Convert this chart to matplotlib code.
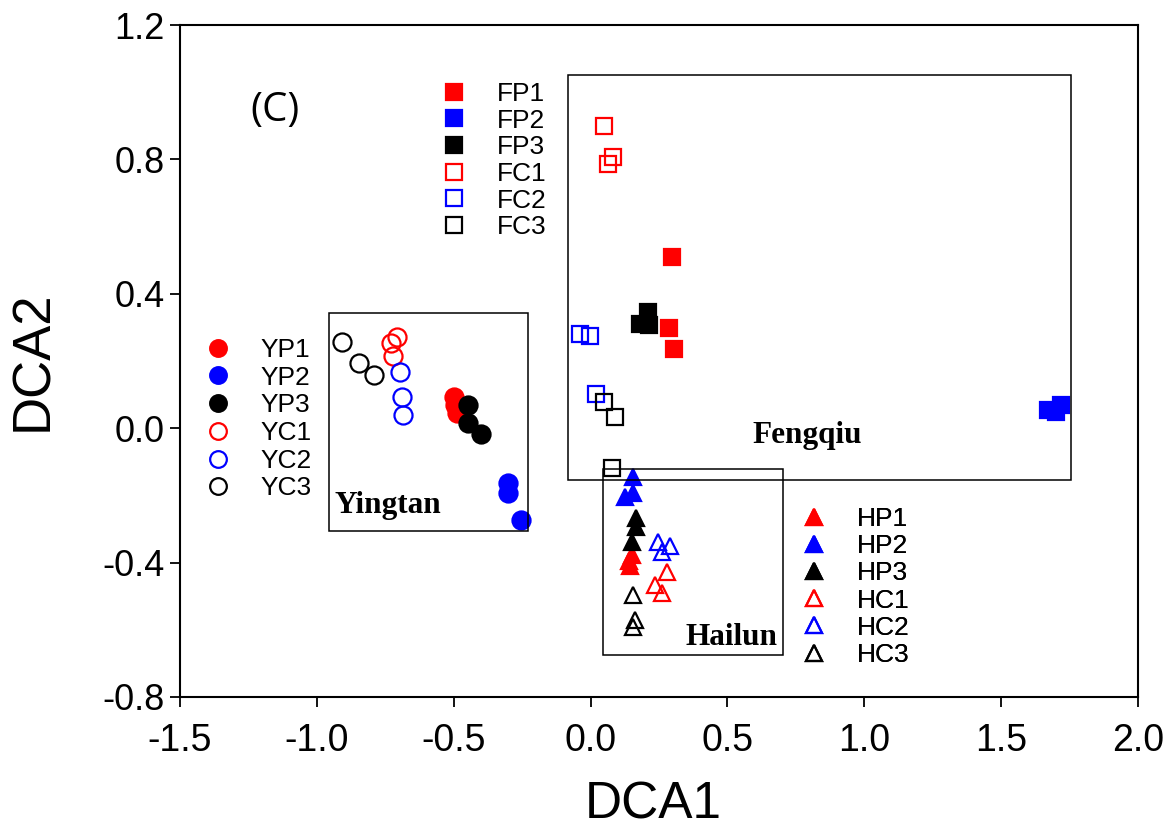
import matplotlib.pyplot as plt
from matplotlib.patches import Rectangle

plt.rcParams['font.family'] = ['Liberation Sans', 'DejaVu Sans']

RED, BLUE, BLACK = '#FF0000', '#0000FF', '#000000'

# Yingtan (circles)
yp1_x = [-0.500, -0.495, -0.490]; yp1_y = [0.093, 0.069, 0.045]
yp2_x = [-0.302, -0.302, -0.254]; yp2_y = [-0.163, -0.193, -0.273]
yp3_x = [-0.448, -0.448, -0.400]; yp3_y = [0.069, 0.015, -0.017]
yc1_x = [-0.707, -0.729, -0.722]; yc1_y = [0.271, 0.254, 0.215]
yc2_x = [-0.696, -0.689, -0.685]; yc2_y = [0.167, 0.093, 0.039]
yc3_x = [-0.908, -0.846, -0.791]; yc3_y = [0.257, 0.194, 0.158]

# Fengqiu (squares)
fp1_x = [0.298, 0.287, 0.305]; fp1_y = [0.510, 0.298, 0.236]
fp2_x = [1.671, 1.719, 1.700]; fp2_y = [0.054, 0.069, 0.048]
fp3_x = [0.210, 0.181, 0.214]; fp3_y = [0.346, 0.310, 0.307]
fc1_x = [0.049, 0.082, 0.064]; fc1_y = [0.899, 0.807, 0.786]
fc2_x = [-0.039, -0.002, 0.020]; fc2_y = [0.280, 0.274, 0.102]
fc3_x = [0.049, 0.089, 0.078]; fc3_y = [0.078, 0.033, -0.118]

# Hailun (triangles)
hp1_x = [0.151, 0.140, 0.145]; hp1_y = [-0.377, -0.395, -0.410]
hp2_x = [0.155, 0.126, 0.155]; hp2_y = [-0.145, -0.205, -0.193]
hp3_x = [0.166, 0.166, 0.151]; hp3_y = [-0.267, -0.294, -0.339]
hc1_x = [0.279, 0.235, 0.261]; hc1_y = [-0.428, -0.467, -0.490]
hc2_x = [0.246, 0.290, 0.261]; hc2_y = [-0.339, -0.351, -0.368]
hc3_x = [0.155, 0.162, 0.155]; hc3_y = [-0.496, -0.571, -0.592]

# site boxes: (x0, y0, x1, y1)
yingtan_box = (-0.956, -0.306, -0.229, 0.343)
fengqiu_box = (-0.082, -0.154, 1.755, 1.051)
hailun_box = (0.045, -0.675, 0.703, -0.121)

fig = plt.figure(figsize=(11.73, 8.35), dpi=100)
ax = fig.add_axes([0.1535, 0.1653, 0.8167, 0.8047])

groups = [
    ('FP1', fp1_x, fp1_y, 's', RED, True),
    ('FP2', fp2_x, fp2_y, 's', BLUE, True),
    ('FP3', fp3_x, fp3_y, 's', BLACK, True),
    ('FC1', fc1_x, fc1_y, 's', RED, False),
    ('FC2', fc2_x, fc2_y, 's', BLUE, False),
    ('FC3', fc3_x, fc3_y, 's', BLACK, False),
    ('YP1', yp1_x, yp1_y, 'o', RED, True),
    ('YP2', yp2_x, yp2_y, 'o', BLUE, True),
    ('YP3', yp3_x, yp3_y, 'o', BLACK, True),
    ('YC1', yc1_x, yc1_y, 'o', RED, False),
    ('YC2', yc2_x, yc2_y, 'o', BLUE, False),
    ('YC3', yc3_x, yc3_y, 'o', BLACK, False),
    ('HP1', hp1_x, hp1_y, '^', RED, True),
    ('HP2', hp2_x, hp2_y, '^', BLUE, True),
    ('HP3', hp3_x, hp3_y, '^', BLACK, True),
    ('HC1', hc1_x, hc1_y, '^', RED, False),
    ('HC2', hc2_x, hc2_y, '^', BLUE, False),
    ('HC3', hc3_x, hc3_y, '^', BLACK, False),
]
msize = {'s': 11, 'o': 13, '^': 12}

handles = {}
for name, xs, ys, m, c, filled in groups:
    ln, = ax.plot(xs, ys, ls='none', marker=m, ms=msize[m],
                  mfc=c if filled else 'none', mec=c, mew=1.6, zorder=3)
    handles[name] = ln

for x0, y0, x1, y1 in [yingtan_box, fengqiu_box, hailun_box]:
    ax.add_patch(Rectangle((x0, y0), x1 - x0, y1 - y0, fill=False,
                           ec='black', lw=1.1, zorder=5))

serif = dict(family=['Liberation Serif', 'DejaVu Serif'], fontweight='bold',
             fontsize=22.5)
ax.text(-0.934, -0.252, 'Yingtan', ha='left', va='baseline', **serif)
ax.text(0.590, -0.044, 'Fengqiu', ha='left', va='baseline', **serif)
ax.text(0.345, -0.645, 'Hailun', ha='left', va='baseline', **serif)

ax.text(0.099, 0.873, '(C)', transform=ax.transAxes, ha='center',
        va='center', fontsize=29, family=['Open Sans', 'DejaVu Sans'])

def add_legend(names, left_px, top_px, spacing):
    leg = ax.legend([handles[n] for n in names], names, loc='upper left',
                    bbox_to_anchor=(left_px / 1173, 1 - top_px / 835),
                    bbox_transform=fig.transFigure, frameon=False,
                    fontsize=19, borderpad=0, labelspacing=spacing,
                    handlelength=2.0, handletextpad=0.6, borderaxespad=0)
    for lh in leg.legend_handles:
        lh.set_markersize(11.5 if lh.get_marker() != 'o' else 12)
    ax.add_artist(leg)

add_legend(['FP1', 'FP2', 'FP3', 'FC1', 'FC2', 'FC3'], 428, 82, 0.10)
add_legend(['YP1', 'YP2', 'YP3', 'YC1', 'YC2', 'YC3'], 192, 338, 0.14)
add_legend(['HP1', 'HP2', 'HP3', 'HC1', 'HC2', 'HC3'], 788, 507, 0.12)

ax.set_xlim(-1.5, 2.0)
ax.set_ylim(-0.8, 1.2)
ax.set_xticks([-1.5, -1.0, -0.5, 0.0, 0.5, 1.0, 1.5, 2.0])
ax.set_yticks([-0.8, -0.4, 0.0, 0.4, 0.8, 1.2])
ax.xaxis.set_major_formatter(plt.FormatStrFormatter('%.1f'))
ax.yaxis.set_major_formatter(plt.FormatStrFormatter('%.1f'))

for sp in ax.spines.values():
    sp.set_linewidth(1.5)
ax.tick_params(direction='out', length=7, width=1.3)
ax.tick_params(axis='y', labelsize=26, pad=4)
ax.tick_params(axis='x', labelsize=27, pad=12)

ax.set_xlabel('DCA1', fontsize=37)
ax.set_ylabel('DCA2', fontsize=38)
ax.xaxis.set_label_coords(0.494, -0.125)
ax.yaxis.set_label_coords(-0.127, 0.5)

plt.savefig('out.png', dpi=100)
